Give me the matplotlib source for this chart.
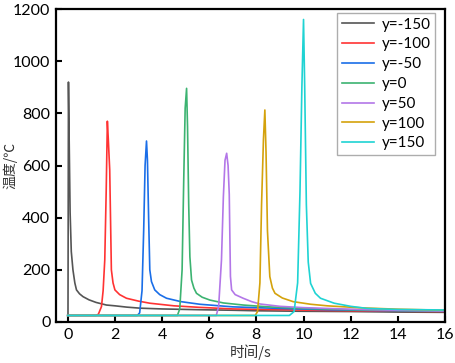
import matplotlib
matplotlib.use("Agg")
import matplotlib.pyplot as plt

labels = ["y=-150", "y=-100", "y=-50", "y=0", "y=50", "y=100", "y=150"]
colors = ["#555555", "#ff3333", "#1a6ee8", "#3cb371", "#b377e8", "#d4a20c", "#1fd3d3"]

t_m150 = [0, 0.01, 0.03, 0.06, 0.1, 0.15, 0.22, 0.3, 0.37, 0.5, 0.65, 0.9, 1.2, 1.64, 2.0, 2.5, 3.06, 4.0, 5.6, 7, 8, 10, 12, 14, 16]
T_m150 = [25, 25, 920, 700, 420, 270, 200, 150, 123, 108, 97, 85, 75, 65, 62, 57, 53, 50, 47, 45, 43, 41, 40, 38, 37]

t_m100 = [0, 1.2, 1.3, 1.43, 1.5, 1.57, 1.63, 1.68, 1.72, 1.78, 1.85, 1.92, 2.0, 2.2, 2.49, 3.0, 3.48, 4.5, 5.6, 7, 9, 11, 13, 16]
T_m100 = [25, 25, 30, 59, 120, 238, 500, 770, 700, 583, 200, 150, 123, 105, 91, 80, 72, 62, 56, 50, 47, 44, 42, 40]

t_m50 = [0, 2.95, 3.05, 3.15, 3.22, 3.28, 3.34, 3.38, 3.43, 3.48, 3.55, 3.69, 3.9, 4.19, 4.8, 5.6, 7, 9, 11, 13, 16]
T_m50 = [25, 25, 35, 120, 350, 600, 694, 620, 400, 200, 155, 123, 105, 91, 78, 68, 58, 52, 47, 44, 41]

t_0 = [0, 4.65, 4.75, 4.85, 4.92, 4.98, 5.04, 5.08, 5.13, 5.18, 5.25, 5.35, 5.46, 5.7, 6.03, 6.6, 7.44, 8.5, 10, 12, 14, 16]
T_0 = [25, 25, 50, 200, 550, 820, 896, 750, 450, 250, 161, 130, 110, 95, 84, 73, 65, 58, 52, 47, 44, 42]

t_50 = [0, 6.3, 6.4, 6.52, 6.6, 6.67, 6.74, 6.8, 6.85, 6.9, 6.95, 7.1, 7.44, 7.8, 8.15, 9, 10, 12, 14, 16]
T_50 = [25, 25, 60, 238, 480, 620, 647, 600, 490, 175, 123, 105, 91, 78, 69, 60, 55, 49, 45, 42]

t_100 = [0, 7.95, 8.05, 8.15, 8.22, 8.3, 8.36, 8.41, 8.47, 8.57, 8.68, 8.79, 9.1, 9.56, 10.3, 11, 12.5, 14, 16]
T_100 = [25, 25, 40, 150, 450, 700, 813, 650, 350, 174, 130, 110, 92, 78, 68, 62, 54, 49, 45]

t_150 = [0, 9.4, 9.6, 9.75, 9.85, 9.93, 10.0, 10.05, 10.12, 10.2, 10.3, 10.5, 10.72, 11.3, 12, 12.7, 14, 16]
T_150 = [25, 25, 40, 150, 500, 900, 1160, 900, 450, 230, 148, 110, 91, 72, 60, 52, 48, 46]

series_t = [t_m150, t_m100, t_m50, t_0, t_50, t_100, t_150]
series_T = [T_m150, T_m100, T_m50, T_0, T_50, T_100, T_150]

xticks = [0, 2, 4, 6, 8, 10, 12, 14, 16]
yticks = [0, 200, 400, 600, 800, 1000, 1200]

plt.rcParams['font.family'] = ['Lato', 'Noto Sans CJK SC', 'DejaVu Sans']

fig = plt.figure(figsize=(4.55, 3.63), dpi=100)
ax = fig.add_axes([0.123, 0.113, 0.855, 0.862])

for t, T, c, lab in zip(series_t, series_T, colors, labels):
    ax.plot(t, T, color=c, lw=1.2, label=lab)

ax.set_xlim(-0.5, 16)
ax.set_ylim(0, 1200)
ax.set_xticks(xticks)
ax.set_yticks(yticks)
ax.tick_params(direction='in', length=4, width=1.5, labelsize=11.5, pad=4)
for s in ax.spines.values():
    s.set_linewidth(1.6)

ax.set_xlabel("时间/s", fontsize=10.5, family=['Noto Sans CJK SC', 'DejaVu Sans'], color='#333333')
ax.xaxis.set_label_coords(0.5, -0.07)
ax.set_ylabel("温度/℃", fontsize=10, family=['Noto Sans CJK SC', 'DejaVu Sans'], color='#333333')
ax.yaxis.set_label_coords(-0.1, 0.5)

leg = ax.legend(loc='upper right', bbox_to_anchor=(0.983, 0.997), fontsize=11, frameon=True,
                fancybox=False, edgecolor='#999999', handlelength=2.1, labelspacing=0.38,
                borderpad=0.3, handletextpad=0.5, borderaxespad=0.2)
leg.get_frame().set_linewidth(1.0)

fig.savefig("out.png", dpi=100)
